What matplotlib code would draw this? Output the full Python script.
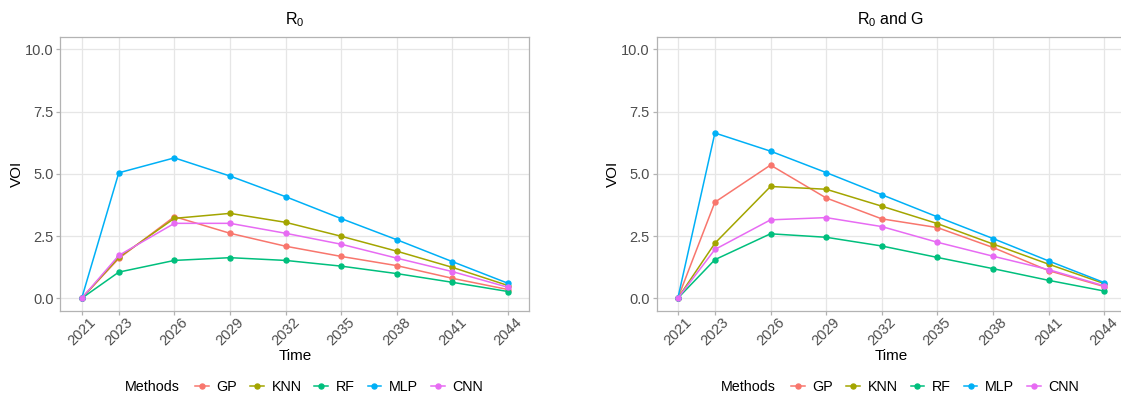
import matplotlib
matplotlib.use("Agg")
import matplotlib.pyplot as plt

plt.rcParams['font.family'] = ['Liberation Sans', 'DejaVu Sans']
plt.rcParams['mathtext.fontset'] = 'custom'
plt.rcParams['mathtext.rm'] = 'Liberation Sans'
plt.rcParams['mathtext.it'] = 'Liberation Sans:italic'

# data
years = [2021, 2023, 2026, 2029, 2032, 2035, 2038, 2041, 2044]
methods = ["GP", "KNN", "RF", "MLP", "CNN"]
colors = ["#F8766D", "#A3A500", "#00BF7D", "#00B0F6", "#E76BF3"]

# panel 1: R0
r0_gp = [0, 1.60, 3.28, 2.61, 2.09, 1.68, 1.31, 0.80, 0.35]
r0_knn = [0, 1.64, 3.21, 3.41, 3.05, 2.49, 1.89, 1.24, 0.51]
r0_rf = [0, 1.05, 1.52, 1.63, 1.52, 1.29, 0.99, 0.64, 0.27]
r0_mlp = [0, 5.04, 5.64, 4.91, 4.08, 3.20, 2.35, 1.47, 0.60]
r0_cnn = [0, 1.72, 3.01, 3.01, 2.61, 2.17, 1.61, 1.07, 0.44]

# panel 2: R0 and G
rg_gp = [0, 3.86, 5.35, 4.03, 3.19, 2.84, 2.04, 1.11, 0.47]
rg_knn = [0, 2.21, 4.49, 4.38, 3.70, 3.00, 2.18, 1.37, 0.59]
rg_rf = [0, 1.55, 2.59, 2.45, 2.10, 1.64, 1.19, 0.72, 0.29]
rg_mlp = [0, 6.64, 5.91, 5.05, 4.16, 3.27, 2.40, 1.50, 0.63]
rg_cnn = [0, 1.96, 3.15, 3.24, 2.88, 2.25, 1.69, 1.15, 0.50]

panels = [
    (r"R$_0$", [r0_gp, r0_knn, r0_rf, r0_mlp, r0_cnn]),
    (r"R$_0$ and G", [rg_gp, rg_knn, rg_rf, rg_mlp, rg_cnn]),
]

W, H = 1121, 397
fig = plt.figure(figsize=(W / 100, H / 100), dpi=100)

# axes rectangles in pixels (left, top, right, bottom)
rects = [(60.4, 36.9, 529.4, 310.7), (656.5, 36.9, 1125.5, 310.7)]

for (title, series), (l, t, r, b) in zip(panels, rects):
    ax = fig.add_axes([l / W, (H - b) / H, (r - l) / W, (b - t) / H])
    for vals, name, col in zip(series, methods, colors):
        ax.plot(years, vals, color=col, linewidth=1.1, marker="o",
                markersize=3.6, label=name, zorder=3)
    span = years[-1] - years[0]
    ax.set_xlim(years[0] - 0.05 * span, years[-1] + 0.05 * span)
    ax.set_ylim(-0.5, 10.5)
    ax.set_xticks(years)
    ax.set_yticks([0, 2.5, 5.0, 7.5, 10.0])
    ax.set_yticklabels(["0.0", "2.5", "5.0", "7.5", "10.0"])
    ax.grid(True, color="#E6E6E6", linewidth=0.9, zorder=0)
    ax.set_axisbelow(True)
    for s in ax.spines.values():
        s.set_color("#B3B3B3")
        s.set_linewidth(0.9)
    ax.tick_params(colors="#B3B3B3", length=3, width=0.9, labelsize=10.5,
                   labelcolor="#4D4D4D", pad=2)
    ax.tick_params(axis="x", pad=0)
    for lab in ax.get_xticklabels():
        lab.set_rotation(45)
        lab.set_ha("center")
        lab.set_va("top")
    ax.set_title(title, fontsize=11.5, pad=9)
    ax.set_xlabel("Time", fontsize=11, labelpad=1)
    ax.set_ylabel("VOI", fontsize=11, labelpad=1)

    # legend at bottom, "Methods" to the left
    cx = (l + r) / 2
    leg_x = cx - 107
    leg = ax.legend(loc="center left", ncol=5, frameon=False,
                    bbox_to_anchor=(leg_x / W, (H - 387) / H),
                    bbox_transform=fig.transFigure, borderpad=0,
                    handlelength=0.95, handletextpad=0.55, columnspacing=0.9,
                    fontsize=10.3, numpoints=1, markerscale=1.0)
    fig.text((leg_x - 8) / W, (H - 387) / H, "Methods", ha="right",
             va="center", fontsize=10.3)

fig.savefig("out.png", dpi=100)
